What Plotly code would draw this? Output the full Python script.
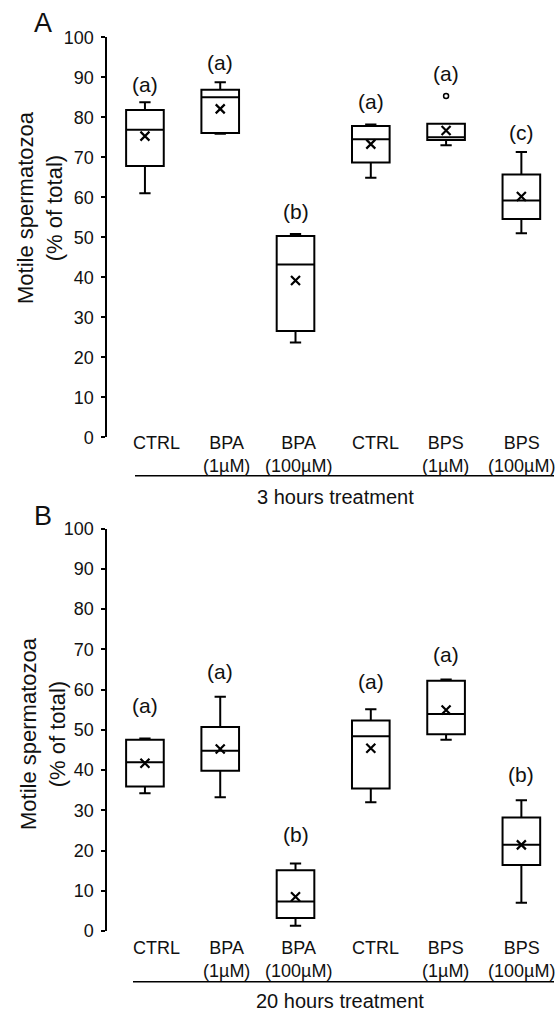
import plotly.graph_objects as go

W, H = 556, 1012

# ---------------- data ----------------
categories = ["CTRL", "BPA<br>(1µM)", "BPA<br>(100µM)", "CTRL", "BPS<br>(1µM)", "BPS<br>(100µM)"]
positions = [0, 1, 2, 3, 4, 5]

# Panel A: 3 hours treatment
a_lower = [61.0, 75.9, 23.7, 64.9, 73.0, 51.0]
a_q1 = [67.8, 76.1, 26.6, 68.7, 74.3, 54.6]
a_median = [76.9, 85.0, 43.2, 74.5, 75.0, 59.2]
a_q3 = [81.8, 86.9, 50.3, 77.8, 78.4, 65.7]
a_upper = [83.75, 88.75, 50.8, 78.2, 78.4, 71.3]
a_mean = [75.3, 82.1, 39.2, 73.3, 76.7, 60.2]
a_outlier_pos = [4]
a_outlier_val = [85.3]
a_letters = ["(a)", "(a)", "(b)", "(a)", "(a)", "(c)"]
a_letter_y = [88.3, 93.8, 56.4, 84.0, 90.9, 76.2]

# Panel B: 20 hours treatment
b_lower = [34.2, 33.2, 1.3, 32.0, 47.5, 7.0]
b_q1 = [35.9, 39.8, 3.2, 35.4, 48.9, 16.4]
b_median = [41.9, 44.8, 7.3, 48.4, 53.9, 21.4]
b_q3 = [47.5, 50.7, 15.1, 52.3, 62.2, 28.2]
b_upper = [47.8, 58.2, 16.8, 55.1, 62.5, 32.5]
b_mean = [41.7, 45.2, 8.5, 45.4, 54.9, 21.4]
b_letters = ["(a)", "(a)", "(b)", "(a)", "(a)", "(b)"]
b_letter_y = [56.1, 64.4, 24.0, 61.9, 68.6, 38.8]

y_ticks = [0, 10, 20, 30, 40, 50, 60, 70, 80, 90, 100]
y_title = "Motile spermatozoa<br>(% of total)"
treatments = ["3 hours treatment", "20 hours treatment"]
panel_letters = ["A", "B"]

# ---------------- style ----------------
FONT = "Liberation Sans, Arial, sans-serif"
TXT = "#111111"
LABEL_XSHIFT = [12, 6, 3, 5, -1, 0]


def px(x):
    return x / W


def py(y):
    return 1 - y / H


fig = go.Figure()

panels = [
    dict(lower=a_lower, q1=a_q1, med=a_median, q3=a_q3, upper=a_upper, mean=a_mean,
         letters=a_letters, ly=a_letter_y, xa="x", ya="y",
         label_top=431.3, line_y=475.7, line_x=(135, 554), treat_y=497, treat_x=335,
         title_xy=(40, 208), letter_xy=(43, 23)),
    dict(lower=b_lower, q1=b_q1, med=b_median, q3=b_q3, upper=b_upper, mean=b_mean,
         letters=b_letters, ly=b_letter_y, xa="x2", ya="y2",
         label_top=935.8, line_y=981.7, line_x=(133, 554), treat_y=1001, treat_x=339.7,
         title_xy=(43, 734), letter_xy=(43, 515.5)),
]

annotations = []
shapes = []
for i, p in enumerate(panels):
    fig.add_trace(go.Box(
        x=positions, q1=p["q1"], median=p["med"], q3=p["q3"],
        lowerfence=p["lower"], upperfence=p["upper"],
        width=0.5, whiskerwidth=0.3, boxpoints=False,
        line=dict(color="black", width=2), fillcolor="white",
        xaxis=p["xa"], yaxis=p["ya"], showlegend=False, hoverinfo="skip",
    ))
    fig.add_trace(go.Scatter(
        x=positions, y=p["mean"], mode="markers",
        marker=dict(symbol="x-thin", size=9, line=dict(color="black", width=2.2), color="black"),
        xaxis=p["xa"], yaxis=p["ya"], showlegend=False, hoverinfo="skip",
    ))
    for c, (xv, lab, ly) in enumerate(zip(positions, p["letters"], p["ly"])):
        annotations.append(dict(x=xv, y=ly, xref=p["xa"], yref=p["ya"], text=lab,
                                showarrow=False, font=dict(family=FONT, size=21, color=TXT),
                                xanchor="center", yanchor="middle"))
    for c, (xv, cat) in enumerate(zip(positions, categories)):
        annotations.append(dict(x=xv, y=py(p["label_top"]), xref=p["xa"], yref="paper",
                                text=cat, showarrow=False, xshift=LABEL_XSHIFT[c],
                                font=dict(family=FONT, size=18, color=TXT),
                                xanchor="center", yanchor="top", align="center"))
    shapes.append(dict(type="line", xref="paper", yref="paper",
                       x0=px(p["line_x"][0]), x1=px(p["line_x"][1]),
                       y0=py(p["line_y"]), y1=py(p["line_y"]),
                       line=dict(color="black", width=1.6)))
    annotations.append(dict(x=px(p["treat_x"]), y=py(p["treat_y"]), xref="paper", yref="paper",
                            text=treatments[i], showarrow=False,
                            font=dict(family=FONT, size=20, color=TXT),
                            xanchor="center", yanchor="middle"))
    annotations.append(dict(x=px(p["title_xy"][0]), y=py(p["title_xy"][1]), xref="paper", yref="paper",
                            text=y_title, showarrow=False, textangle=-90,
                            font=dict(family=FONT, size=22, color=TXT),
                            xanchor="center", yanchor="middle"))
    annotations.append(dict(x=px(p["letter_xy"][0]), y=py(p["letter_xy"][1]), xref="paper", yref="paper",
                            text=panel_letters[i], showarrow=False,
                            font=dict(family=FONT, size=27, color=TXT),
                            xanchor="center", yanchor="middle"))

# outlier
fig.add_trace(go.Scatter(
    x=a_outlier_pos, y=a_outlier_val, mode="markers",
    marker=dict(symbol="circle-open", size=5, color="black", line=dict(color="black", width=1.5)),
    xaxis="x", yaxis="y", showlegend=False, hoverinfo="skip",
))

xdom = [px(107.3), 1.0]
xcommon = dict(domain=xdom, range=[-0.5, 5.46], showline=False, showticklabels=False,
               ticks="", showgrid=False, zeroline=False, automargin=False)
ycommon = dict(range=[0, 100], tickvals=y_ticks, ticks="outside", ticklen=4, tickwidth=2,
               tickcolor="black", showline=True, linewidth=2, linecolor="black",
               showgrid=False, zeroline=False, ticklabelstandoff=4, automargin=False,
               tickfont=dict(family=FONT, size=18, color=TXT))

fig.update_layout(
    template="none",
    width=W, height=H,
    margin=dict(l=0, r=0, t=0, b=0, pad=0, autoexpand=False),
    paper_bgcolor="white", plot_bgcolor="white",
    xaxis=dict(**xcommon, anchor="y"),
    yaxis=dict(**ycommon, domain=[py(437.3), py(37.3)], anchor="x"),
    xaxis2=dict(**xcommon, anchor="y2"),
    yaxis2=dict(**ycommon, domain=[py(931), py(528.5)], anchor="x2"),
    annotations=annotations,
    shapes=shapes,
    font=dict(family=FONT, color=TXT),
)

fig.write_html(
    "out.html",
    config={"displayModeBar": False},
    post_script=(
        "var d=document.getElementById('{plot_id}');"
        "d.style.position='fixed';d.style.top='0px';d.style.left='0px';"
        "document.documentElement.style.overflow='hidden';"
        "document.body.style.margin='0';document.body.style.overflow='hidden';"
    ),
)
